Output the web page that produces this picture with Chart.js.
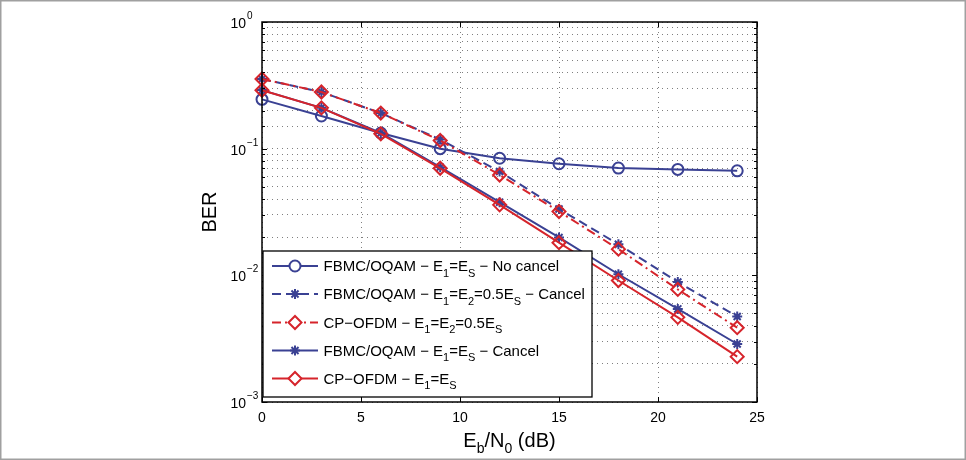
<!DOCTYPE html>
<html><head><meta charset="utf-8">
<script src="https://cdn.jsdelivr.net/npm/chart.js@4/dist/chart.umd.min.js"></script>
<style>html,body{margin:0;padding:0;background:#fff;}canvas{display:block;}</style>
</head><body>
<canvas id="c" width="966" height="460"></canvas>
<script>
// ---- data ----
const ebn0 = [0, 3, 6, 9, 12, 15, 18, 21, 24];
const fbmcNoCancel   = [0.245, 0.181, 0.133, 0.100, 0.084, 0.076, 0.0703, 0.0686, 0.0669];
const fbmcHalfCancel = [0.355, 0.280, 0.191, 0.118, 0.066, 0.0334, 0.0176, 0.00885, 0.00473];
const ofdmHalf       = [0.355, 0.280, 0.191, 0.116, 0.062, 0.0319, 0.0161, 0.00774, 0.00386];
const fbmcCancel     = [0.290, 0.210, 0.133, 0.0714, 0.0378, 0.0199, 0.0102, 0.00543, 0.00287];
const ofdmFull       = [0.289, 0.210, 0.131, 0.0700, 0.0360, 0.0181, 0.0091, 0.00466, 0.00228];
const xTickValues = [0, 5, 10, 15, 20, 25];
const yDecades = [1, 0.1, 0.01, 0.001];
const yExponents = ['0', '\u22121', '\u22122', '\u22123'];
const legendNames = [
  [['FBMC/OQAM \u2212 E','n'],['1','sub'],['=E','n'],['S','sub'],[' \u2212 No cancel','n']],
  [['FBMC/OQAM \u2212 E','n'],['1','sub'],['=E','n'],['2','sub'],['=0.5E','n'],['S','sub'],[' \u2212 Cancel','n']],
  [['CP\u2212OFDM \u2212 E','n'],['1','sub'],['=E','n'],['2','sub'],['=0.5E','n'],['S','sub']],
  [['FBMC/OQAM \u2212 E','n'],['1','sub'],['=E','n'],['S','sub'],[' \u2212 Cancel','n']],
  [['CP\u2212OFDM \u2212 E','n'],['1','sub'],['=E','n'],['S','sub']]
];
const xTitle = [['E','n'],['b','sub'],['/N','n'],['0','sub'],[' (dB)','n']];
const yTitle = 'BER';

// ---- styles ----
const BLUE = '#3A4193', RED = '#D6242B';
const FONT = '"Liberation Sans", Arial, Helvetica, sans-serif';
const pts = arr => ebn0.map((x, i) => ({x, y: arr[i]}));
const styles = [
  {color: BLUE, dash: [], pointStyle: 'circle', radius: 5.5},
  {color: BLUE, dash: [9, 5], pointStyle: 'star', radius: 5},
  {color: RED, dash: [9, 4, 2, 4], pointStyle: 'rectRot', radius: 6.5},
  {color: BLUE, dash: [], pointStyle: 'star', radius: 5},
  {color: RED, dash: [], pointStyle: 'rectRot', radius: 6.5}
];
const seriesData = [fbmcNoCancel, fbmcHalfCancel, ofdmHalf, fbmcCancel, ofdmFull];

function setFont(ctx, size) { ctx.font = size + 'px ' + FONT; }
function richWidth(ctx, parts, size, sub) {
  let w = 0;
  for (const [t, k] of parts) { setFont(ctx, k === 'n' ? size : sub); w += ctx.measureText(t).width; }
  return w;
}
function drawRich(ctx, parts, x, y, size, sub, dy, align) {
  let w = richWidth(ctx, parts, size, sub);
  let cx = align === 'center' ? x - w / 2 : (align === 'right' ? x - w : x);
  ctx.textAlign = 'left'; ctx.textBaseline = 'alphabetic';
  for (const [t, k] of parts) {
    setFont(ctx, k === 'n' ? size : sub);
    const yy = k === 'sub' ? y + dy : (k === 'sup' ? y - dy : y);
    ctx.fillText(t, cx, yy);
    cx += ctx.measureText(t).width;
  }
}

const decor = {
  id: 'decor',
  afterDraw(chart) {
    const ctx = chart.ctx, a = chart.chartArea;
    const xs = chart.scales.x, ys = chart.scales.y;
    ctx.save();
    // inward ticks
    ctx.strokeStyle = '#000'; ctx.lineWidth = 1; ctx.setLineDash([]);
    ctx.beginPath();
    for (const v of xTickValues) {
      const px = Math.round(xs.getPixelForValue(v)) + 0.5;
      ctx.moveTo(px, a.bottom); ctx.lineTo(px, a.bottom - 5);
      ctx.moveTo(px, a.top); ctx.lineTo(px, a.top + 5);
    }
    for (const t of ys.ticks) {
      const v = t.value;
      const lg = Math.log10(v);
      const major = Math.abs(lg - Math.round(lg)) < 1e-6;
      const L = major ? 5 : 3;
      const py = Math.round(ys.getPixelForValue(v)) + 0.5;
      ctx.moveTo(a.left, py); ctx.lineTo(a.left + L, py);
      ctx.moveTo(a.right, py); ctx.lineTo(a.right - L, py);
    }
    ctx.stroke();
    // axes box
    ctx.lineWidth = 1.5;
    ctx.strokeRect(a.left, a.top, a.right - a.left, a.bottom - a.top);

    // legend box
    const lx = 263, ly = 251, lw = 329, lh = 146;
    ctx.fillStyle = '#fff';
    ctx.fillRect(lx, ly, lw, lh);
    ctx.lineWidth = 1.3; ctx.strokeStyle = '#000';
    ctx.strokeRect(lx, ly, lw, lh);
    const rows = [266, 294, 322.5, 350.5, 378.5];
    legendNames.forEach((parts, i) => {
      const s = styles[i], y = rows[i];
      ctx.strokeStyle = s.color; ctx.lineWidth = 2; ctx.setLineDash(s.dash);
      ctx.beginPath(); ctx.moveTo(272, y); ctx.lineTo(318, y); ctx.stroke();
      ctx.setLineDash([]);
      ctx.fillStyle = 'rgba(255,255,255,1)';
      Chart.helpers.drawPoint(ctx, {pointStyle: s.pointStyle, radius: s.radius, borderWidth: 2, rotation: 0}, 295, y);
      ctx.fillStyle = '#000';
      drawRich(ctx, parts, 323.5, y + 5.2, 15, 11, 5.5, 'left');
    });

    // y tick labels 10^n
    ctx.fillStyle = '#000';
    yDecades.forEach((v, i) => {
      const py = ys.getPixelForValue(v);
      setFont(ctx, 14); ctx.textAlign = 'right'; ctx.textBaseline = 'alphabetic';
      ctx.fillText('10', 246, py + 6);
      setFont(ctx, 10); ctx.textAlign = 'left';
      ctx.fillText(yExponents[i], 247, py - 3);
    });

    // axis titles
    drawRich(ctx, xTitle, (a.left + a.right) / 2, 447, 20, 14, 6, 'center');
    ctx.save();
    ctx.translate(216, (a.top + a.bottom) / 2);
    ctx.rotate(-Math.PI / 2);
    setFont(ctx, 20); ctx.textAlign = 'center'; ctx.textBaseline = 'alphabetic';
    ctx.fillText(yTitle, 0, 0);
    ctx.restore();

    // outer frame
    ctx.strokeStyle = '#a0a0a0'; ctx.lineWidth = 1.5;
    ctx.strokeRect(0.75, 0.75, 964.5, 458.5);
    ctx.restore();
  }
};

const gridCommon = {color: 'rgba(0,0,0,0.5)', lineWidth: 1, drawTicks: false};
new Chart(document.getElementById('c'), {
  type: 'line',
  data: {
    datasets: seriesData.map((arr, i) => ({
      label: 'series' + i,
      data: pts(arr),
      borderColor: styles[i].color,
      backgroundColor: 'rgba(0,0,0,0)',
      borderWidth: 2,
      borderDash: styles[i].dash,
      pointStyle: styles[i].pointStyle,
      pointRadius: styles[i].radius,
      pointBorderWidth: 2,
      pointBorderColor: styles[i].color,
      pointBackgroundColor: 'rgba(0,0,0,0)',
      tension: 0,
      clip: false,
      order: 5 - i
    }))
  },
  options: {
    responsive: false,
    animation: false,
    devicePixelRatio: 1,
    layout: {padding: {left: 0, top: 22, right: 209, bottom: 0}},
    plugins: {legend: {display: false}, tooltip: {enabled: false}},
    scales: {
      x: {
        type: 'linear', min: 0, max: 25,
        afterBuildTicks: s => { s.ticks = xTickValues.map(v => ({value: v})); },
        afterFit: s => { s.height = 58; },
        grid: gridCommon,
        border: {display: false, dash: [1, 4]},
        ticks: {color: '#000', font: {family: FONT, size: 14}, padding: 8, maxRotation: 0}
      },
      y: {
        type: 'logarithmic', min: 0.001, max: 1,
        afterFit: s => { s.width = 262; },
        grid: gridCommon,
        border: {display: false, dash: [1, 4]},
        ticks: {autoSkip: false, callback: () => '', font: {size: 1}}
      }
    }
  },
  plugins: [decor]
});
</script>
</body></html>
